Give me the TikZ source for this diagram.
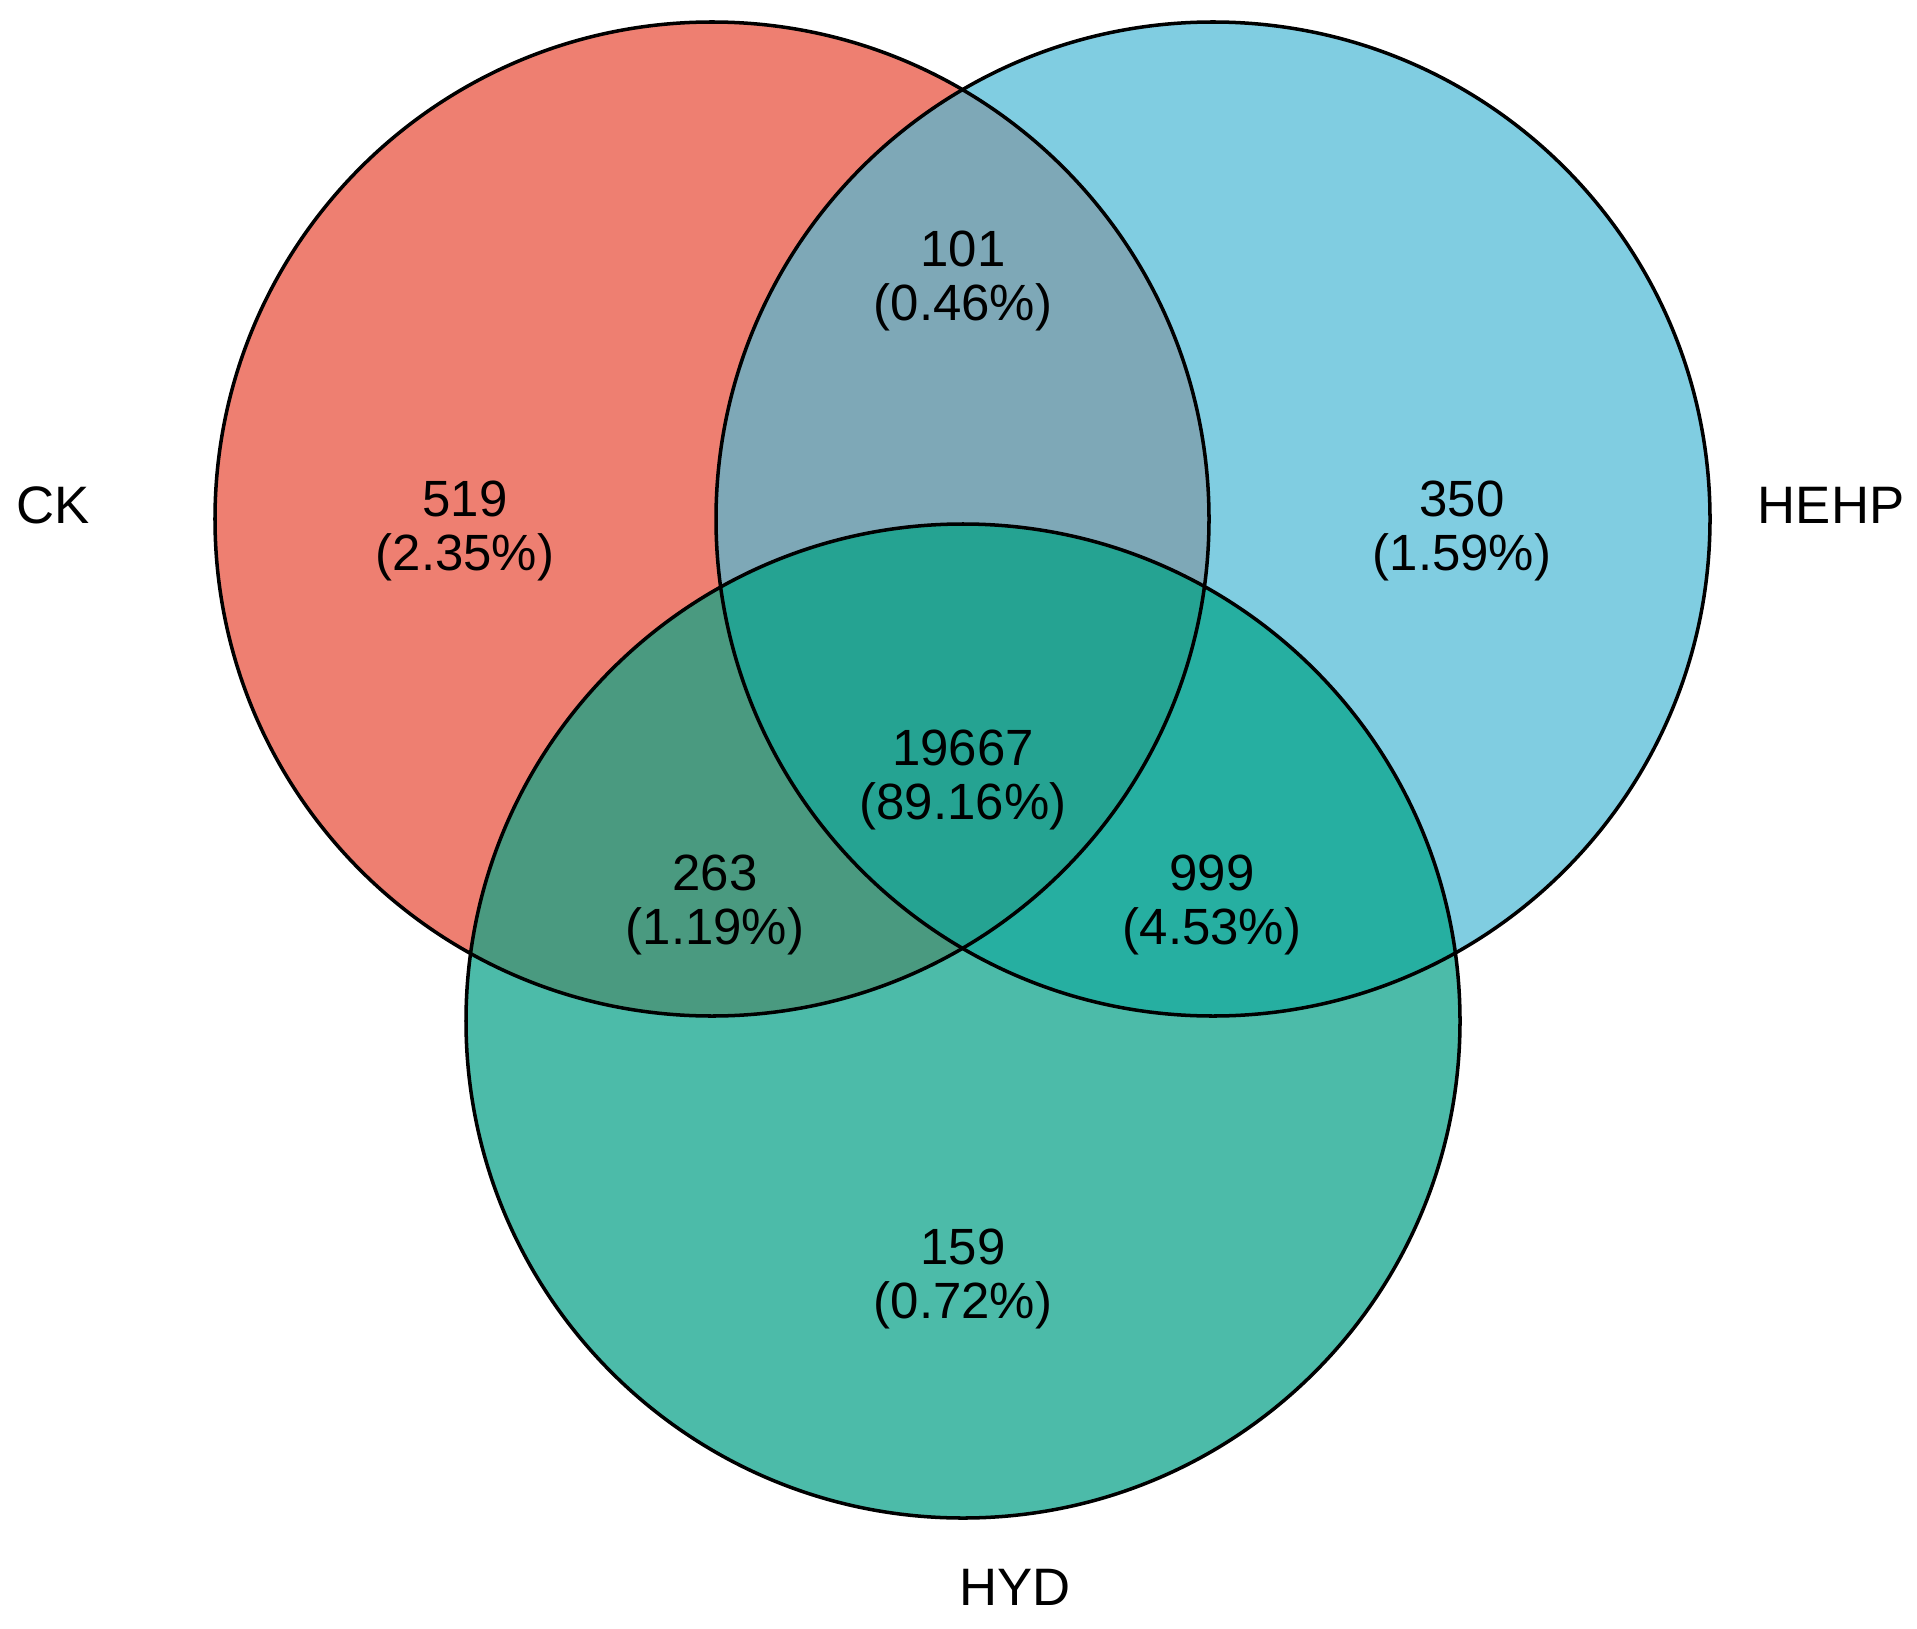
\documentclass[tikz,border=0pt]{standalone}
\usepackage{fontspec}
\setmainfont{Liberation Sans}
\definecolor{ckc}{HTML}{EE7F71}
\definecolor{hec}{HTML}{80CDE1}
\definecolor{hyc}{HTML}{4CBBA9}
\definecolor{ckhe}{HTML}{7EA8B7}
\definecolor{ckhy}{HTML}{4A9A80}
\definecolor{hehy}{HTML}{26AFA1}
\definecolor{allc}{HTML}{25A392}
\begin{document}
\begin{tikzpicture}[x=0.02cm,y=-0.02cm,
  lbl/.style={align=center,font=\fontsize{29}{31}\selectfont,inner sep=0pt},
  setname/.style={font=\fontsize{30}{32}\selectfont,inner sep=0pt},
  rim/.style={draw=black,line width=2pt}]
\useasboundingbox (0,0) rectangle (1917,1629);
\def\ck{(712,519) circle (497)}
\def\he{(1213,519) circle (497)}
\def\hy{(963,1021) circle (497)}
\fill[ckc] \ck;
\fill[hec] \he;
\fill[hyc] \hy;
\begin{scope}\clip \ck; \fill[ckhe] \he; \end{scope}
\begin{scope}\clip \ck; \fill[ckhy] \hy; \end{scope}
\begin{scope}\clip \he; \fill[hehy] \hy; \end{scope}
\begin{scope}\clip \ck; \clip \he; \fill[allc] \hy; \end{scope}
\draw[rim] \ck;
\draw[rim] \he;
\draw[rim] \hy;
\node[lbl] (a) at (963,281) {101\\(0.46\%)};
\node[lbl] (b) at (465,531) {519\\(2.35\%)};
\node[lbl] (c) at (1462,531) {350\\(1.59\%)};
\node[lbl] (d) at (963,780) {19667\\(89.16\%)};
\node[lbl] (e) at (715,905) {263\\(1.19\%)};
\node[lbl] (f) at (1212,905) {999\\(4.53\%)};
\node[lbl] (g) at (963,1279) {159\\(0.72\%)};
\node[setname] (ck) at (53,505) {CK};
\node[setname] (hehp) at (1831,505) {HEHP};
\node[setname] (hyd) at (1015,1587) {HYD};
\end{tikzpicture}
\end{document}
